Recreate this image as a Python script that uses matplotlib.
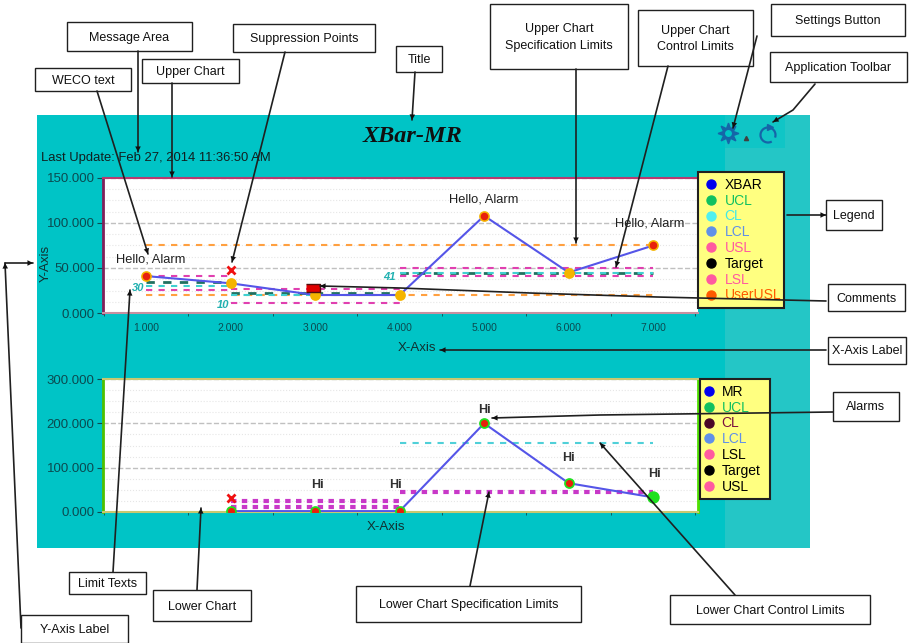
import numpy as np
import matplotlib
matplotlib.use("Agg")
import matplotlib.pyplot as plt
from matplotlib.lines import Line2D
from matplotlib.patches import Rectangle, Arc
from matplotlib.ticker import FormatStrFormatter, MultipleLocator

plt.rcParams['font.family'] = ['Liberation Sans', 'DejaVu Sans']

W, H = 909, 643

# upper chart
x_upper = [1, 2, 3, 4, 5, 6, 7]
xbar = [41, 33, 20, 20, 108, 45, 75]
alarm_upper = [1, 5, 7]
hello_x = [1.05, 5, 6.96]
hello_y = [59, 126, 99]

# (start, end, value) for each limit run
upper_ucl = [(1, 2, 41), (2, 4, 27), (4, 7, 50)]
upper_target = [(1, 2, 35), (2, 4, 22), (4, 7, 45)]
upper_cl = [(1, 2, 30), (2, 4, 20), (4, 7, 44)]
upper_lcl = [(1, 2, 26), (2, 4, 11), (4, 7, 41)]
upper_user = [(1, 7, 75), (1, 7, 20)]
upper_limit_texts = [(0.98, 34, '30'), (1.98, 15, '10'), (3.95, 46, '41')]

# lower chart
x_lower = [2, 3, 4, 5, 6, 7]
mr = [2, 2, 2, 200, 65, 33]
hi_x = [3.03, 3.95, 5, 6, 7.01]
hi_y = [60, 60, 230, 122, 86]
lower_spec = [(2, 4, 25), (2, 4, 11), (4, 7, 45)]
lower_ctrl = [(4, 7, 156)]

upper_legend = ['XBAR', 'UCL', 'CL', 'LCL', 'USL', 'Target', 'LSL', 'UserUSL']
upper_marker_colors = ['#0000EE', '#10C060', '#50F0F0', '#6090E8', '#FF5AA0', '#000000', '#FF5AA0', '#FF5A00']
upper_text_colors = ['#000000', '#10C060', '#40E8E8', '#6090E8', '#FF5AA0', '#000000', '#FF5AA0', '#FF5A00']
lower_legend = ['MR', 'UCL', 'CL', 'LCL', 'LSL', 'Target', 'USL']
lower_marker_colors = ['#0000EE', '#10C060', '#4A0828', '#6090E8', '#FF5AA0', '#000000', '#FF5AA0']
lower_text_colors = ['#000000', '#10C060', '#7A1040', '#6090E8', '#000000', '#000000', '#000000']

# callout boxes: text, left, top, right, bottom
callouts = [
    ('Message Area', 67, 22, 192, 51), ('Suppression Points', 233, 24, 375, 52),
    ('Title', 396, 46, 442, 72), ('WECO text', 35, 68, 131, 91),
    ('Upper Chart', 142, 59, 239, 83), ('Upper Chart\nSpecification Limits', 490, 4, 628, 69),
    ('Upper Chart\nControl Limits', 638, 10, 753, 66), ('Settings Button', 771, 4, 905, 36),
    ('Application Toolbar', 770, 52, 907, 82), ('Legend', 826, 200, 882, 230),
    ('Comments', 828, 284, 905, 311), ('X-Axis Label', 828, 337, 906, 364),
    ('Alarms', 833, 392, 899, 421), ('Limit Texts', 69, 572, 146, 594),
    ('Lower Chart', 153, 590, 251, 621), ('Y-Axis Label', 21, 615, 128, 643),
    ('Lower Chart Specification Limits', 356, 586, 581, 622),
    ('Lower Chart Control Limits', 670, 595, 870, 624),
]
# callout arrows, each a polyline ending at the arrow tip
arrows = [
    [(138, 51), (138, 152)], [(172, 83), (172, 177)], [(97, 91), (148, 254)],
    [(285, 52), (232, 262)], [(415, 72), (412, 120)], [(576, 69), (576, 243)],
    [(668, 66), (616, 267)], [(757, 36), (733, 128)], [(815, 84), (793, 110), (773, 122)],
    [(787, 215), (826, 215)], [(826, 301), (657, 297), (530, 293), (400, 288), (320, 286)],
    [(826, 350), (600, 350), (440, 350)], [(833, 412), (600, 415), (492, 418)],
    [(5, 263), (33, 263)], [(21, 628), (5, 263)], [(113, 572), (130, 290)],
    [(197, 590), (201, 508)], [(470, 586), (489, 492)], [(735, 595), (600, 443)],
]


def axes_px(left, top, right, bottom, **kw):
    return fig.add_axes([left / W, 1 - bottom / H, (right - left) / W, (bottom - top) / H], **kw)


def draw_runs(ax, runs, color, lw=1.5, dashes=(3, 3)):
    for start, end, value in runs:
        ax.plot([start, end], [value, value], color=color, lw=lw, dashes=dashes, zorder=2)


def style_chart(ax, ymax, ystep, left_color, edge_color):
    ax.set_xlim(0.49, 7.53)
    ax.set_ylim(0, ymax)
    ax.yaxis.set_major_locator(MultipleLocator(ystep))
    ax.yaxis.set_minor_locator(MultipleLocator(ystep / 4))
    ax.yaxis.set_major_formatter(FormatStrFormatter('%.3f'))
    ax.xaxis.set_major_locator(MultipleLocator(1))
    ax.xaxis.set_major_formatter(FormatStrFormatter('%.3f'))
    ax.xaxis.set_minor_locator(MultipleLocator(0.5))
    ax.tick_params(axis='y', which='major', labelsize=9.5, colors='#0B4A50', length=4, pad=2)
    ax.tick_params(axis='y', which='minor', length=0)
    ax.tick_params(axis='x', which='major', labelsize=7.5, colors='#0B4A50', length=0, pad=7)
    ax.tick_params(axis='x', which='minor', length=2, color='#0B4A50')
    ax.grid(axis='y', which='major', color='#C0C0C0', ls='--', lw=1)
    ax.grid(axis='y', which='minor', color='#E6E6E6', ls=':', lw=0.8)
    ax.set_axisbelow(True)
    ax.spines['right'].set_visible(False)
    ax.spines['left'].set_color(left_color)
    ax.spines['left'].set_linewidth(2)
    ax.spines['top'].set_color(edge_color)
    ax.spines['bottom'].set_color(edge_color)
    ax.spines['top'].set_linewidth(1.5)
    ax.spines['bottom'].set_linewidth(1.5)


def add_legend(labels, marker_colors, text_colors, box, handlelength, textpad):
    left, top, right, bottom = box
    handles = [Line2D([], [], ls='none', marker='o', ms=6.5, color=c) for c in marker_colors]
    leg = fig.legend(handles, labels, loc='upper left', mode='expand',
                     bbox_to_anchor=(left / W, 1 - bottom / H, (right - left) / W, (bottom - top) / H),
                     fontsize=10, frameon=True, fancybox=False, framealpha=1, facecolor='#FFFF80',
                     edgecolor='#202020', labelspacing=0.13, handlelength=handlelength, handletextpad=textpad,
                     borderpad=0.42, borderaxespad=0, labelcolor=text_colors)
    leg.get_frame().set_linewidth(1.5)
    leg.set_zorder(5)


fig = plt.figure(figsize=(W / 100, H / 100), dpi=100, facecolor='white')

# panel background
bg = axes_px(0, 0, W, H, zorder=0)
bg.set_xlim(0, W)
bg.set_ylim(H, 0)
bg.axis('off')
bg.add_patch(Rectangle((37, 115), 773, 433, color='#00C4C6', lw=0))
bg.add_patch(Rectangle((725, 148), 85, 400, color='#24C6C6', lw=0))
bg.add_patch(Rectangle((785, 115), 25, 33, color='#24C6C6', lw=0))
bg.add_patch(Rectangle((725, 115), 60, 33, color='#10C5C6', lw=0))
bg.text(412, 136, 'XBar-MR', family='Liberation Serif', weight='bold', style='italic',
        fontsize=17.5, ha='center', va='center', color='#101010')
bg.text(41, 158, 'Last Update: Feb 27, 2014 11:36:50 AM', fontsize=9.4, ha='left', va='center',
        color='#102020')

# toolbar icons
bg.plot([728], [133], marker=(8, 1, 0), ms=15, color='#1565A8', ls='none')
bg.plot([728], [133], marker='o', ms=6, mfc='#00C4C6', mec='#1565A8', ls='none')
bg.plot([746], [138], marker='^', ms=3, color='#404040', ls='none')
bg.add_patch(Arc((768, 135), 15, 15, theta1=-300, theta2=20, color='#1565A8', lw=1.6))
bg.plot([770], [127], marker='>', ms=4, color='#1565A8', ls='none')

# upper chart
ax1 = axes_px(103, 178, 698, 313, zorder=1)
style_chart(ax1, 150, 50, '#80205A', '#B83A70')
ax1.spines['bottom'].set_color('#C890A0')
draw_runs(ax1, upper_user, '#FFA040')
draw_runs(ax1, upper_ucl, '#E040B0')
draw_runs(ax1, upper_target, '#207060', lw=2)
draw_runs(ax1, upper_cl, '#40D0D0')
draw_runs(ax1, upper_lcl, '#E040B0')
ax1.plot(x_upper, xbar, color='#5555E8', lw=1.5, zorder=3)
ax1.scatter(x_upper, xbar, s=60, c='#F5B400', zorder=4, lw=0)
ax1.scatter(alarm_upper, [xbar[i - 1] for i in alarm_upper], s=30, c='#E8200C', zorder=5, lw=0)
for x, y in zip(hello_x, hello_y):
    ax1.text(x, y, 'Hello, Alarm', ha='center', va='center', fontsize=9.3, color='#202020')
for x, y, s in upper_limit_texts:
    ax1.text(x, y - 6, s, color='#20B0B0', fontsize=8, style='italic', weight='bold', ha='right', va='center')
ax1.plot([2], [48], marker='x', ms=6, mew=2, color='#F01010', ls='none', zorder=5)
ax1.plot([2.98], [28], marker=[(-1, -0.6), (1, -0.6), (1, 0.6), (-1, 0.6)], ms=10,
         mfc='#E00000', mec='#501010', ls='none', zorder=5)
ax1.set_xlabel('X-Axis', fontsize=9.5, color='#103030', labelpad=7, x=0.528)
ax1.set_ylabel('Y-Axis', fontsize=9.5, color='#103030', labelpad=-4, y=0.37)

# lower chart
ax2 = axes_px(103, 379, 698, 512, zorder=1)
style_chart(ax2, 300, 100, '#50C000', '#C8C870')
ax2.spines['right'].set_visible(True)
ax2.spines['right'].set_color('#50E000')
ax2.spines['right'].set_linewidth(2)
draw_runs(ax2, lower_spec, '#C838C8', lw=3, dashes=(1.3, 1.3))
draw_runs(ax2, lower_ctrl, '#50D0D8')
ax2.plot(x_lower, mr, color='#5555E8', lw=1.5, zorder=3)
ax2.scatter(x_lower[:-1], mr[:-1], s=60, c='#20E020', zorder=4, lw=0)
ax2.scatter(x_lower[-1:], mr[-1:], s=80, c='#20E020', zorder=4, lw=0)
ax2.scatter(x_lower[:-1], mr[:-1], s=26, c='#E8200C', zorder=5, lw=0)
for x, y in zip(hi_x, hi_y):
    ax2.text(x, y, 'Hi', ha='center', va='center', fontsize=9, weight='bold', color='#303030')
ax2.plot([2], [32], marker='x', ms=6, mew=2, color='#F01010', ls='none', zorder=5)
ax2.tick_params(axis='x', which='major', labelbottom=False)
ax2.set_xlabel('X-Axis', fontsize=9.5, color='#103030', labelpad=1, x=0.476)

add_legend(upper_legend, upper_marker_colors, upper_text_colors, (698, 172, 784, 312), 1.0, 0.5)
add_legend(lower_legend, lower_marker_colors, lower_text_colors, (700, 379, 770, 496), 0.5, 0.63)

# callouts on top of everything
top = axes_px(0, 0, W, H, zorder=10)
top.set_xlim(0, W)
top.set_ylim(H, 0)
top.axis('off')
for label, l, t, r, b in callouts:
    top.add_patch(Rectangle((l, t), r - l, b - t, fc='white', ec='#202020', lw=1))
    top.text((l + r) / 2, (t + b) / 2 + 1, label, fontsize=9, ha='center', va='center',
             color='#101010', linespacing=1.5)
for path in arrows:
    pts = np.array(path)
    top.plot(pts[:, 0], pts[:, 1], color='#202020', lw=1.2, solid_capstyle='round')
    top.annotate('', xy=path[-1], xytext=path[-2],
                 arrowprops=dict(arrowstyle='-|>', color='#101010', lw=0, mutation_scale=10, shrinkA=0, shrinkB=0))

fig.savefig('out.png', dpi=100, facecolor='white')
